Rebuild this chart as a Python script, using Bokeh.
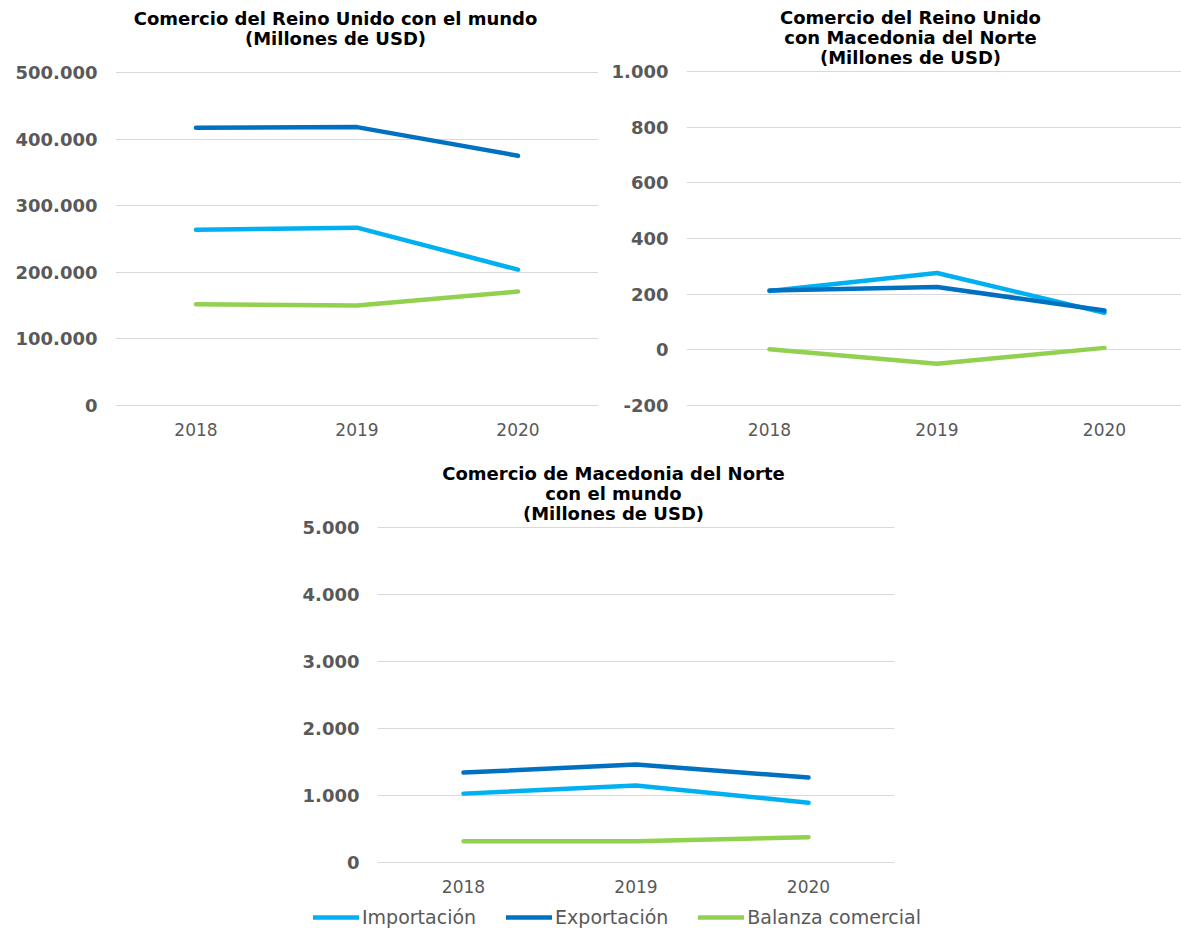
from bokeh.plotting import figure
from bokeh.layouts import column, row
from bokeh.models import Range1d, FixedTicker, Label, Legend, LegendItem, Spacer
from bokeh.embed import file_html
from bokeh.resources import INLINE

# ---------------- data ----------------
years = ["2018", "2019", "2020"]
series_names = ["Importación", "Exportación", "Balanza comercial"]
series_colors = ["#00B0F0", "#0070C0", "#92D050"]

uk_world_import = [264000, 267000, 204000]
uk_world_export = [417000, 418000, 375000]
uk_world_balance = [152000, 150000, 171000]

uk_mk_import = [211, 276, 133]
uk_mk_export = [213, 226, 141]
uk_mk_balance = [2, -50, 7]

mk_world_import = [1028, 1148, 893]
mk_world_export = [1342, 1463, 1267]
mk_world_balance = [318, 317, 378]

uk_world_ticks = [0, 100000, 200000, 300000, 400000, 500000]
uk_mk_ticks = [-200, 0, 200, 400, 600, 800, 1000]
mk_world_ticks = [0, 1000, 2000, 3000, 4000, 5000]

title_uk_world = ["Comercio del Reino Unido con el mundo", "(Millones de USD)"]
title_uk_mk = ["Comercio del Reino Unido", "con Macedonia del Norte", "(Millones de USD)"]
title_mk_world = ["Comercio de Macedonia del Norte", "con el mundo", "(Millones de USD)"]

FONT = "DejaVu Sans"
GRAY = "#595959"


def fmt(v):
    s = f"{abs(v):,}".replace(",", ".")
    return ("-" if v < 0 else "") + s


def make_chart(x0, y0, width, height, frame, yfit, ticks, cat_first, cat_step,
               series, title_lines, title_cx, title_y0):
    """frame = page px (left, right, top, bottom); yfit = ((v_lo, px_lo), (v_hi, px_hi))."""
    fl, fr, ft, fb = frame
    (v_lo, px_lo), (v_hi, px_hi) = yfit
    k = (v_hi - v_lo) / (px_lo - px_hi)

    def ydata(py):
        return v_lo + (px_lo - py) * k

    def xdata(px):
        return (px - cat_first) / cat_step

    p = figure(width=width, height=height, output_backend="svg", toolbar_location=None,
               x_range=Range1d(xdata(fl), xdata(fr)), y_range=Range1d(ydata(fb), ydata(ft)),
               min_border_left=fl - x0, min_border_right=x0 + width - fr,
               min_border_top=ft - y0, min_border_bottom=y0 + height - fb)
    p.outline_line_color = None
    p.background_fill_color = "white"
    p.border_fill_color = "white"
    p.xgrid.grid_line_color = None
    p.ygrid.grid_line_color = "#D9D9D9"
    p.ygrid.grid_line_width = 1
    p.yaxis.ticker = FixedTicker(ticks=ticks)
    p.yaxis.major_label_overrides = {t: fmt(t) for t in ticks}
    p.xaxis.ticker = FixedTicker(ticks=list(range(len(years))))
    p.xaxis.major_label_overrides = {i: y for i, y in enumerate(years)}
    for ax in (p.xaxis, p.yaxis):
        ax.axis_line_color = None
        ax.major_tick_line_color = None
        ax.minor_tick_line_color = None
        ax.major_tick_out = 0
        ax.major_tick_in = 0
        ax.major_label_text_font = FONT
        ax.major_label_text_color = GRAY
    p.yaxis.major_label_text_font_size = "18px"
    p.yaxis.major_label_text_font_style = "bold"
    p.yaxis.major_label_standoff = 18
    p.xaxis.major_label_text_font_size = "17px"
    p.xaxis.major_label_standoff = 14
    xs = list(range(len(years)))
    for vals, col in zip(series, series_colors):
        p.line(xs, vals, line_color=col, line_width=4.5, line_cap="round", line_join="round")
    for i, t in enumerate(title_lines):
        p.add_layout(Label(x=xdata(title_cx), y=ydata(title_y0 + 20.2 * i),
                           text=t, text_font=FONT, text_font_size="18px", text_font_style="bold",
                           text_color="black", text_align="center", text_baseline="middle"))
    return p


p1 = make_chart(0, 0, 598, 450, (115, 598, 0, 408), ((0, 405), (500000, 72)), uk_world_ticks,
                195.5, 161, [uk_world_import, uk_world_export, uk_world_balance], title_uk_world, 335, 18)
p2 = make_chart(598, 0, 583, 450, (686, 1181, 0, 408), ((-200, 405), (1000, 71)), uk_mk_ticks,
                769, 167.5, [uk_mk_import, uk_mk_export, uk_mk_balance], title_uk_mk, 910, 17)
p3 = make_chart(280, 450, 650, 454, (377, 894, 450, 865), ((0, 862), (5000, 527)), mk_world_ticks,
                463, 172.5, [mk_world_import, mk_world_export, mk_world_balance], title_mk_world, 613, 473)

# legend strip below the bottom chart (its series lie outside this strip's visible range)
lf = figure(width=650, height=24, output_backend="svg", toolbar_location=None,
            x_range=Range1d(100, 101), y_range=Range1d(100000, 100001), x_axis_type=None, y_axis_type=None,
            min_border_left=0, min_border_right=0, min_border_top=0, min_border_bottom=0)
lf.outline_line_color = None
lf.xgrid.grid_line_color = None
lf.ygrid.grid_line_color = None
xs_all = list(range(len(years)))
legend_renderers = [lf.line(xs_all, vals, line_color=c, line_width=4.5, line_cap="round")
                    for vals, c in zip([mk_world_import, mk_world_export, mk_world_balance], series_colors)]
legend = Legend(items=[LegendItem(label=n, renderers=[r]) for n, r in zip(series_names, legend_renderers)],
                orientation="horizontal", location=(313 - 280, 0),
                padding=0, margin=0, spacing=30, border_line_color=None,
                background_fill_alpha=0, glyph_width=46, glyph_height=20, label_height=20,
                label_standoff=3, label_text_font=FONT, label_text_font_size="19px",
                label_text_color=GRAY)
lf.add_layout(legend)

layout = column(row(p1, p2),
                row(Spacer(width=280, height=454), p3),
                row(Spacer(width=280, height=24), lf))

html = file_html(layout, INLINE)
with open("out.html", "w") as f:
    f.write(html)
